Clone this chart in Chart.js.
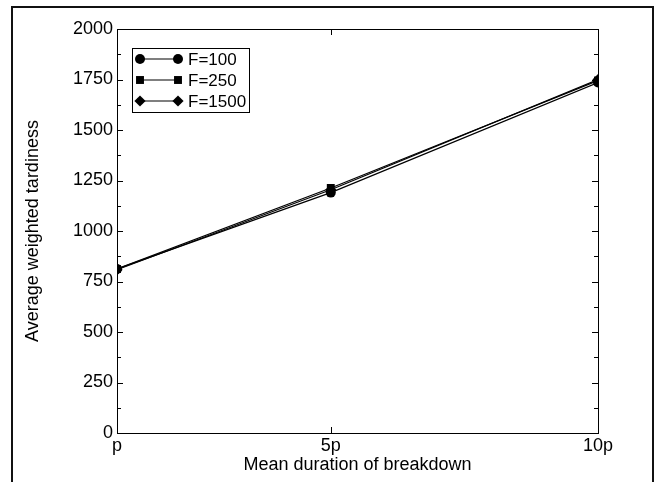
<!DOCTYPE html>
<html>
<head>
<meta charset="utf-8">
<script src="https://cdn.jsdelivr.net/npm/chart.js@4.4.0/dist/chart.umd.min.js"></script>
<style>
  html, body { margin: 0; padding: 0; background: #fff; }
  #wrap { position: relative; width: 656px; height: 482px; }
  /* outer frame of the figure (no bottom edge) */
  #frame { position: absolute; left: 11px; top: 6px; width: 639px; height: 480px;
           border: 2px solid #111; border-bottom: none; pointer-events: none; }
</style>
</head>
<body>
<div id="wrap">
  <canvas id="chart" width="656" height="482"></canvas>
  <div id="frame"></div>
</div>
<script>
// x positions: p, 5p, 10p (linear)
const xValues = [1, 5, 10];
const xLabels = ["p", "5p", "10p"];

// series
const seriesNames = ["F=100", "F=250", "F=1500"];
const f100 = [812, 1190, 1735];
const f250 = [812, 1213, 1745];
const f1500 = [808, 1204, 1750];

const pointStyles = ["circle", "rect", "rectRot"];
const pointSizes = [5, 5.6, 5.6];

const FONT = "'Liberation Sans', Arial, sans-serif";

function toPoints(values) {
  return xValues.map((x, i) => ({ x: x, y: values[i] }));
}

const allSeries = [f100, f250, f1500];
const datasets = allSeries.map((values, i) => ({
  label: seriesNames[i],
  data: toPoints(values),
  borderColor: "#000",
  backgroundColor: "#000",
  borderWidth: 1.2,
  pointStyle: pointStyles[i],
  pointRadius: pointSizes[i],
  pointBackgroundColor: "#000",
  pointBorderColor: "#000",
  pointBorderWidth: 0,
  tension: 0,
}));

// 枠線と内向きの目盛りを描く
const axisFramePlugin = {
  id: "axisFrame",
  beforeDatasetsDraw(chart) {
    const { ctx, chartArea: a } = chart;
    const x = chart.scales.x;
    const y = chart.scales.y;
    ctx.save();
    ctx.strokeStyle = "#000";
    ctx.lineWidth = 1;
    ctx.strokeRect(Math.round(a.left) + 0.5, Math.round(a.top) + 0.5,
      Math.round(a.right - a.left), Math.round(a.bottom - a.top));
    ctx.beginPath();
    for (let v = y.min; v <= y.max; v += 125) {
      const py = Math.round(y.getPixelForValue(v)) + 0.5;
      const len = v % 250 === 0 ? 6 : 4;
      ctx.moveTo(a.left, py);
      ctx.lineTo(a.left + len, py);
      ctx.moveTo(a.right, py);
      ctx.lineTo(a.right - len, py);
    }
    xValues.forEach((v) => {
      const px = Math.round(x.getPixelForValue(v)) + 0.5;
      ctx.moveTo(px, a.bottom);
      ctx.lineTo(px, a.bottom - 6);
      ctx.moveTo(px, a.top);
      ctx.lineTo(px, a.top + 6);
    });
    ctx.stroke();
    ctx.restore();
  },
};

// 凡例（プロット内の枠付き）
const boxLegendPlugin = {
  id: "boxLegend",
  afterDraw(chart) {
    const { ctx } = chart;
    const left = 132, top = 48, w = 117, h = 64;
    ctx.save();
    ctx.fillStyle = "#fff";
    ctx.fillRect(left, top, w, h);
    ctx.strokeStyle = "#000";
    ctx.lineWidth = 1;
    ctx.strokeRect(left + 0.5, top + 0.5, w, h);
    chart.data.datasets.forEach((ds, i) => {
      const yy = top + 11 + i * 21;
      ctx.strokeStyle = "#000";
      ctx.lineWidth = 1.2;
      ctx.beginPath();
      ctx.moveTo(140, yy);
      ctx.lineTo(178, yy);
      ctx.stroke();
      ctx.fillStyle = "#000";
      const opts = { pointStyle: ds.pointStyle, radius: ds.pointRadius, rotation: 0, borderWidth: 0 };
      Chart.helpers.drawPoint(ctx, opts, 140, yy);
      Chart.helpers.drawPoint(ctx, opts, 178, yy);
      ctx.fillStyle = "#000";
      ctx.font = "17px " + FONT;
      ctx.textBaseline = "middle";
      ctx.textAlign = "left";
      ctx.fillText(ds.label, 188, yy + 1);
    });
    ctx.restore();
  },
};

new Chart(document.getElementById("chart"), {
  type: "line",
  data: { datasets: datasets },
  plugins: [axisFramePlugin, boxLegendPlugin],
  options: {
    responsive: false,
    animation: false,
    layout: { padding: { top: 29, right: 58, bottom: 0, left: 0 } },
    plugins: {
      legend: { display: false },
      tooltip: { enabled: false },
    },
    scales: {
      x: {
        type: "linear",
        min: 1,
        max: 10,
        grid: { display: false, drawTicks: false },
        border: { display: false },
        afterBuildTicks: (axis) => {
          axis.ticks = xValues.map((v) => ({ value: v }));
        },
        afterFit: (scale) => { scale.height = 49; },
        ticks: {
          color: "#000",
          padding: 2,
          maxRotation: 0,
          font: { family: FONT, size: 18 },
          callback: (v) => xLabels[xValues.indexOf(v)],
        },
        title: {
          display: true,
          text: "Mean duration of breakdown",
          color: "#000",
          font: { family: FONT, size: 18, lineHeight: 1.2 },
          padding: { top: 0, bottom: 6 },
        },
      },
      y: {
        min: 0,
        max: 2000,
        grid: { display: false, drawTicks: false },
        border: { display: false },
        afterFit: (scale) => { scale.width = 117; },
        ticks: {
          stepSize: 250,
          color: "#000",
          padding: 4,
          font: { family: FONT, size: 18 },
          callback: (v) => String(v),
        },
        title: {
          display: true,
          text: "Average weighted tardiness",
          color: "#000",
          font: { family: FONT, size: 18, lineHeight: 1.2 },
          padding: { top: 22, bottom: 0 },
        },
      },
    },
  },
});
</script>
</body>
</html>
